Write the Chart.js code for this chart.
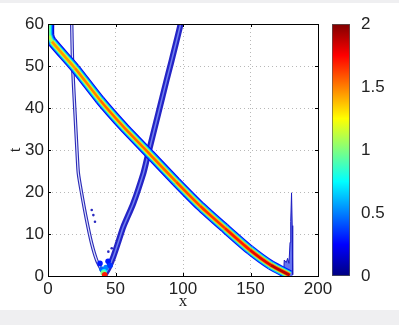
<!DOCTYPE html>
<html>
<head>
<meta charset="utf-8">
<script src="https://cdn.jsdelivr.net/npm/chart.js@4/dist/chart.umd.min.js"></script>
<style>
  html, body { margin: 0; padding: 0; background: #fff; }
  body { width: 399px; height: 325px; position: relative; overflow: hidden; }
  .strip { position: absolute; left: 0; width: 399px; background: #efeff1; }
  #topStrip { top: 0; height: 3px; }
  #bottomStrip { top: 310px; height: 15px; }
  #mainChart { position: absolute; left: 0; top: 0; }
  #barChart { position: absolute; left: 320px; top: 0; }
</style>
</head>
<body>
<div class="strip" id="topStrip"></div>
<div class="strip" id="bottomStrip"></div>
<canvas id="mainChart" width="340" height="312"></canvas>
<canvas id="barChart" width="79" height="312"></canvas>
<script>
// thick travelling band (x, t) and its peak value along the ridge
const bandX = [1, 1, 3, 20, 38.5, 56, 76, 95, 112.6, 131, 149.6, 165, 179];
const bandT = [61, 57.3, 55.8, 49.5, 41.9, 35.5, 28.8, 22.4, 16.7, 11.4, 6.2, 2.6, 0.2];
const bandPeak = [0.95, 1.1, 1.45, 1.5, 1.55, 1.55, 1.55, 1.6, 1.65, 1.7, 1.8, 1.88, 1.95];

// V shaped weak wave
const leftX = [17.5, 18.3, 20, 21.7, 22.5, 24.9, 28.6, 32.3, 36, 39.7, 41.5];
const leftT = [61, 49.8, 38.8, 28.4, 24.4, 19.7, 13.3, 7.8, 3.8, 1.4, 0.4];
const rightX = [42, 45, 48.4, 52, 55.8, 63.2, 70.6, 73.1, 81.7, 87.9, 90.4, 97.8, 98.5];
const rightT = [0.3, 2, 4.6, 8, 11.7, 17.3, 24.4, 27.6, 38.7, 46.7, 49.8, 59.4, 61];

// spot at the bottom of the V
const hotX = [38.5, 40, 43, 44.5, 46, 41.5, 41, 42];
const hotT = [3, 1.6, 2, 3.5, 2.5, 1, 0.7, 0.3];
const hotV = [0.3, 0.45, 0.5, 0.3, 0.35, 0.75, 1.0, 1.7];

// stray dots inside the V
const dotsX = [32.4, 33.6, 34.8, 44.7, 47.2];
const dotsT = [15.7, 14.5, 12.9, 5.8, 6.6];

// spike at the right end
const spikeX = [174.5, 175, 176.5, 177.5, 178.5, 179.3, 179.8, 180.4, 180.9, 181.2, 181.3];
const spikeT = [0.3, 3.8, 3.2, 4.2, 3, 8, 13, 19.8, 12, 5, 0.3];

const xTicks = [0, 50, 100, 150, 200];
const tTicks = [0, 10, 20, 30, 40, 50, 60];
const barTicks = [0, 0.5, 1, 1.5, 2];

const TICK_FONT = { family: "'Liberation Sans', Arial, sans-serif", size: 17 };
const TITLE_FONT = { family: "'Liberation Serif', 'Times New Roman', serif", size: 17 };
const TEXT = "#222";

function jet(v) {
  const f = Math.max(0, Math.min(1, v / 2));
  const c = (a) => Math.round(255 * Math.max(0, Math.min(1, a)));
  const r = c(Math.min(4 * f - 1.5, -4 * f + 4.5));
  const g = c(Math.min(4 * f - 0.5, -4 * f + 3.5));
  const b = c(Math.min(4 * f + 0.5, -4 * f + 2.5));
  return `rgb(${r},${g},${b})`;
}

const toPts = (xs, ts) => xs.map((x, i) => ({ x, y: ts[i] }));

const bandLayers = [
  [10, 0.16], [8, 0.34], [6, 0.56], [4.2, 0.82], [2.6, 1]
].map(([w, k], i) => ({
  data: toPts(bandX, bandT),
  borderWidth: w,
  borderColor: jet(bandPeak[5] * k),
  segment: { borderColor: (ctx) => jet(bandPeak[ctx.p0DataIndex] * k) },
  tension: 0.2,
  order: 10 - i
}));

const line = (xs, ts, w, color, order) => ({
  data: toPts(xs, ts), borderWidth: w, borderColor: color, tension: 0.25, order
});

const frame = {
  id: "frame",
  afterDatasetsDraw(chart) {
    const { ctx, chartArea: a, scales } = chart;
    ctx.save();
    ctx.strokeStyle = "#000";
    ctx.lineWidth = 1;
    ctx.beginPath();
    scales.x.ticks.forEach((t) => {
      const px = Math.round(scales.x.getPixelForValue(t.value)) + 0.5;
      ctx.moveTo(px, a.bottom); ctx.lineTo(px, a.bottom - 3);
      ctx.moveTo(px, a.top); ctx.lineTo(px, a.top + 3);
    });
    scales.y.ticks.forEach((t) => {
      const py = Math.round(scales.y.getPixelForValue(t.value)) + 0.5;
      ctx.moveTo(a.left, py); ctx.lineTo(a.left + 3, py);
      ctx.moveTo(a.right, py); ctx.lineTo(a.right - 3, py);
    });
    ctx.stroke();
    ctx.strokeRect(Math.round(a.left) + 0.5, Math.round(a.top) + 0.5,
      Math.round(a.right - a.left), Math.round(a.bottom - a.top));
    ctx.restore();
  }
};

new Chart(document.getElementById("mainChart"), {
  type: "scatter",
  data: {
    datasets: [
      ...bandLayers,
      {
        data: toPts(hotX, hotT),
        pointRadius: 2.8,
        pointBorderWidth: 0,
        pointBackgroundColor: hotV.map(jet),
        showLine: false,
        order: 12
      },
      {
        data: toPts(dotsX, dotsT),
        pointRadius: 1.3,
        pointBorderWidth: 0,
        pointBackgroundColor: "#2a2ac0",
        showLine: false,
        order: 13
      },
      line(rightX, rightT, 1.5, "#7080ee", 14),
      line(rightX, rightT, 6, "#2424c6", 15),
      line(leftX, leftT, 1.2, "#dfe2ff", 16),
      line(leftX, leftT, 3.4, "#2a2ab6", 17),
      {
        data: toPts(spikeX, spikeT),
        borderWidth: 1,
        borderColor: "#1c1cc0",
        backgroundColor: "rgba(50, 70, 235, 0.75)",
        fill: "origin",
        tension: 0,
        order: 18
      }
    ].map((d) => ({ showLine: true, pointRadius: 0, clip: 0, ...d }))
  },
  options: {
    responsive: false,
    animation: false,
    events: [],
    layout: { padding: { left: 0, top: 24, right: 22, bottom: 0 } },
    plugins: { legend: { display: false }, tooltip: { enabled: false } },
    scales: {
      x: {
        type: "linear",
        min: 0,
        max: 200,
        afterBuildTicks: (s) => { s.ticks = xTicks.map((value) => ({ value })); },
        afterFit: (s) => { s.height = 36; },
        ticks: { font: TICK_FONT, color: TEXT, padding: 3, maxRotation: 0, callback: (v) => String(v) },
        grid: { color: "#b8b8b8", drawTicks: false },
        border: { display: false, dash: [1, 3] },
        title: { display: true, text: "x", font: TITLE_FONT, color: TEXT, padding: { top: 0, bottom: 0 } }
      },
      y: {
        type: "linear",
        min: 0,
        max: 60,
        afterBuildTicks: (s) => { s.ticks = tTicks.map((value) => ({ value })); },
        afterFit: (s) => { s.width = 48; },
        ticks: { font: TICK_FONT, color: TEXT, padding: 4, callback: (v) => String(v) },
        grid: { color: "#b8b8b8", drawTicks: false },
        border: { display: false, dash: [1, 3] },
        title: { display: true, text: "t", font: TITLE_FONT, color: TEXT, padding: { top: 5, bottom: 0 } }
      }
    }
  },
  plugins: [frame]
});

// colour bar
const JET_STOPS = [0, 0.125, 0.375, 0.625, 0.875, 1];
new Chart(document.getElementById("barChart"), {
  type: "bar",
  data: {
    labels: ["c"],
    datasets: [{
      data: [[0, 2]],
      backgroundColor: (ctx) => {
        const area = ctx.chart.chartArea;
        if (!area) return "#00f";
        const g = ctx.chart.ctx.createLinearGradient(0, area.bottom, 0, area.top);
        JET_STOPS.forEach((f) => g.addColorStop(f, jet(f * 2)));
        return g;
      },
      borderColor: "#555",
      borderWidth: 1,
      borderSkipped: false,
      barPercentage: 1,
      categoryPercentage: 1
    }]
  },
  options: {
    responsive: false,
    animation: false,
    events: [],
    layout: { padding: { left: 12, top: 24, right: 0, bottom: 36 } },
    plugins: { legend: { display: false }, tooltip: { enabled: false } },
    scales: {
      x: { display: false },
      y: {
        position: "right",
        min: 0,
        max: 2,
        afterBuildTicks: (s) => { s.ticks = barTicks.map((value) => ({ value })); },
        afterFit: (s) => { s.width = 49; },
        ticks: { font: TICK_FONT, color: TEXT, padding: 3, callback: (v) => String(v) },
        grid: { display: false },
        border: { display: false }
      }
    }
  }
});
</script>
</body>
</html>
